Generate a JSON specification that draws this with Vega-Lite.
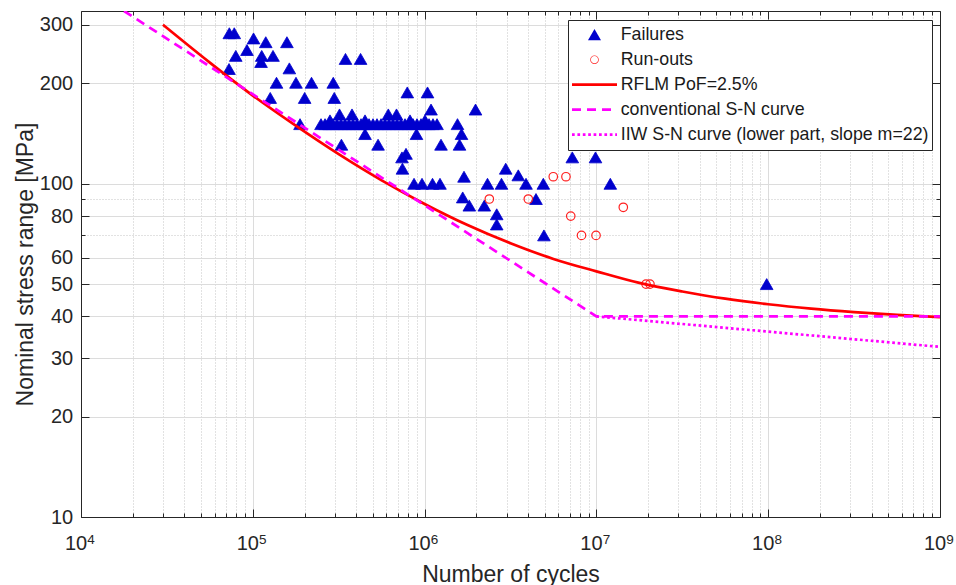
{
  "$schema": "https://vega.github.io/schema/vega-lite/v6.json",
  "width": 859,
  "height": 506,
  "autosize": "none",
  "padding": {"left": 81, "top": 11, "right": 16, "bottom": 68},
  "background": "white",
  "config": {
    "font": "Liberation Sans",
    "view": {"stroke": null},
    "axis": {
      "labelFont": "Liberation Sans",
      "titleFont": "Liberation Sans",
      "domainColor": "#262626",
      "domainWidth": 1,
      "tickColor": "#262626",
      "tickWidth": 1,
      "labelColor": "#262626",
      "titleColor": "#262626",
      "gridColor": "#dcdcdc",
      "gridWidth": 1,
      "titleFontWeight": "normal",
      "labelFontSize": 20,
      "titleFontSize": 23,
      "labelOverlap": false,
      "labelFlush": false
    }
  },
  "datasets": {
    "failures": [
      {"N": 73000, "S": 283}, {"N": 78000, "S": 283}, {"N": 101000, "S": 273}, {"N": 119000, "S": 266},
      {"N": 158000, "S": 266}, {"N": 79600, "S": 242}, {"N": 92500, "S": 252}, {"N": 112700, "S": 242},
      {"N": 111700, "S": 232}, {"N": 131100, "S": 242}, {"N": 72700, "S": 221}, {"N": 163200, "S": 222},
      {"N": 137400, "S": 201}, {"N": 178400, "S": 201}, {"N": 219700, "S": 201}, {"N": 294000, "S": 201},
      {"N": 126300, "S": 181}, {"N": 200400, "S": 181}, {"N": 298000, "S": 181}, {"N": 346400, "S": 237},
      {"N": 424000, "S": 237}, {"N": 188300, "S": 151}, {"N": 793000, "S": 188}, {"N": 1040000, "S": 188},
      {"N": 1090000, "S": 167}, {"N": 1979000, "S": 167}, {"N": 1554000, "S": 151}, {"N": 1640000, "S": 141},
      {"N": 1597000, "S": 131}, {"N": 1246000, "S": 131}, {"N": 897000, "S": 141}, {"N": 450000, "S": 141},
      {"N": 536000, "S": 131}, {"N": 328000, "S": 131}, {"N": 738600, "S": 120}, {"N": 779500, "S": 123},
      {"N": 743000, "S": 111}, {"N": 868000, "S": 100}, {"N": 966000, "S": 100}, {"N": 1112000, "S": 100},
      {"N": 1229000, "S": 100}, {"N": 1696000, "S": 105}, {"N": 2323000, "S": 100}, {"N": 2803000, "S": 100},
      {"N": 2966000, "S": 111}, {"N": 3510000, "S": 106}, {"N": 3893000, "S": 100}, {"N": 4910000, "S": 100},
      {"N": 7240000, "S": 120}, {"N": 9880000, "S": 120}, {"N": 12050000, "S": 100}, {"N": 1667000, "S": 91},
      {"N": 1821000, "S": 86}, {"N": 2226000, "S": 86}, {"N": 2629000, "S": 81}, {"N": 2629000, "S": 75.5},
      {"N": 4450000, "S": 90}, {"N": 4950000, "S": 70}, {"N": 98000000, "S": 50},
      {"N": 249500, "S": 151}, {"N": 263300, "S": 151}, {"N": 277700, "S": 151}, {"N": 293000, "S": 151},
      {"N": 309100, "S": 151}, {"N": 326200, "S": 151}, {"N": 344100, "S": 151}, {"N": 363100, "S": 151},
      {"N": 383000, "S": 151}, {"N": 404200, "S": 151}, {"N": 426500, "S": 151}, {"N": 450000, "S": 151},
      {"N": 474800, "S": 151}, {"N": 500900, "S": 151}, {"N": 528400, "S": 151}, {"N": 557600, "S": 151},
      {"N": 588300, "S": 151}, {"N": 620700, "S": 151}, {"N": 654900, "S": 151}, {"N": 691000, "S": 151},
      {"N": 728900, "S": 151}, {"N": 769100, "S": 151}, {"N": 811500, "S": 151}, {"N": 856200, "S": 151},
      {"N": 903300, "S": 151}, {"N": 953000, "S": 151}, {"N": 1005000, "S": 151}, {"N": 1061000, "S": 151},
      {"N": 1119000, "S": 151}, {"N": 1181000, "S": 151},
      {"N": 319700, "S": 161.5}, {"N": 378000, "S": 161.5}, {"N": 614800, "S": 161.5}, {"N": 686300, "S": 161.5},
      {"N": 281400, "S": 155}, {"N": 450000, "S": 155}, {"N": 822400, "S": 155}, {"N": 1005000, "S": 155}
    ],
    "runouts": [
      {"N": 2381000, "S": 90}, {"N": 4015000, "S": 90}, {"N": 5610000, "S": 105}, {"N": 6650000, "S": 105},
      {"N": 7090000, "S": 80}, {"N": 8190000, "S": 70}, {"N": 9950000, "S": 70}, {"N": 14340000, "S": 85},
      {"N": 19440000, "S": 50}, {"N": 20500000, "S": 50}
    ],
    "rflm": [
      {"N": 30000, "S": 300}, {"N": 56230, "S": 231}, {"N": 100000, "S": 184}, {"N": 177800, "S": 149.4},
      {"N": 316200, "S": 122.7}, {"N": 562300, "S": 102.4}, {"N": 1000000, "S": 87}, {"N": 1778000, "S": 75.2},
      {"N": 3162000, "S": 66.3}, {"N": 5623000, "S": 59.5}, {"N": 10000000, "S": 54.6}, {"N": 17780000, "S": 50.4},
      {"N": 31620000, "S": 47.5}, {"N": 56230000, "S": 45.2}, {"N": 100000000, "S": 43.5}, {"N": 177800000, "S": 42.2},
      {"N": 316200000, "S": 41.2}, {"N": 562300000, "S": 40.4}, {"N": 1000000000, "S": 39.8}
    ],
    "conventional": [
      {"N": 17808, "S": 330}, {"N": 10000000, "S": 40}, {"N": 1000000000, "S": 40}
    ],
    "iiw": [
      {"N": 10000000, "S": 40}, {"N": 1000000000, "S": 32.4}
    ]
  },
  "resolve": {"axis": {"x": "independent", "y": "independent"}},
  "layer": [
    {
      "data": {"name": "failures"},
      "mark": {"type": "point", "shape": "triangle-up", "filled": true, "size": 160, "opacity": 1, "stroke": "#0000cd", "strokeWidth": 0.8, "clip": true},
      "encoding": {
        "x": {
          "field": "N", "type": "quantitative",
          "scale": {"type": "log", "domain": [10000, 1000000000], "nice": false},
          "axis": {
            "orient": "bottom",
            "values": [10000, 100000, 1000000, 10000000, 100000000, 1000000000],
            "grid": true, "tickSize": -8, "labelExpr": "'10'", "labelOffset": -5.5,
            "labelPadding": 24.5, "labelBaseline": "top",
            "title": "Number of cycles", "titleY": 64, "titleBaseline": "alphabetic"
          }
        },
        "y": {
          "field": "S", "type": "quantitative",
          "scale": {"type": "log", "domain": [10, 330], "nice": false},
          "axis": {
            "orient": "left",
            "values": [10, 20, 30, 40, 50, 60, 80, 100, 200, 300],
            "grid": true, "tickSize": -8, "labelPadding": 16.3,
            "title": "Nominal stress range [MPa]", "titleX": -49, "titleBaseline": "alphabetic"
          }
        },
        "color": {
          "datum": "Failures", "type": "nominal",
          "scale": {
            "domain": ["Failures", "Run-outs", "RFLM PoF=2.5%", "conventional S-N curve", "IIW S-N curve (lower part, slope m=22)"],
            "range": ["#0000cd", "#ff2020", "#ff0000", "#ff00ff", "#ff00ff"]
          },
          "legend": {
            "orient": "none", "legendX": 487, "legendY": 9,
            "title": null,
            "padding": 2.5, "clipHeight": 24.3, "rowPadding": 0,
            "strokeColor": "#262626", "fillColor": "white",
            "symbolSize": 2025, "symbolStrokeWidth": 2.6, "symbolOffset": 0,
            "labelFont": "Liberation Sans", "labelFontSize": 17.8, "labelColor": "#1a1a1a",
            "labelOffset": 2.2, "labelLimit": 0,
            "encoding": {
              "symbols": {
                "shape": {"value": {"expr": "datum.value === 'Failures' ? 'M0,-0.25L0.289,0.25L-0.289,0.25Z' : datum.value === 'Run-outs' ? 'M-0.19,0A0.19,0.19,0,1,1,0.19,0A0.19,0.19,0,1,1,-0.19,0ZM-0.16,0A0.16,0.16,0,1,0,0.16,0A0.16,0.16,0,1,0,-0.16,0Z' : 'M-1,0L1,0'"}},
                "fill": {"value": {"expr": "datum.value === 'Failures' ? '#0000cd' : datum.value === 'Run-outs' ? '#ff2020' : 'transparent'"}},
                "stroke": {"value": {"expr": "datum.value === 'Failures' || datum.value === 'Run-outs' ? 'transparent' : datum.value === 'RFLM PoF=2.5%' ? '#ff0000' : '#ff00ff'"}},
                "strokeOpacity": {"value": {"expr": "datum.value === 'Failures' || datum.value === 'Run-outs' ? 0 : 1"}},
                "strokeDash": {"value": {"expr": "datum.value === 'conventional S-N curve' ? [9, 6] : datum.value === 'IIW S-N curve (lower part, slope m=22)' ? [2.7, 2.7] : [1, 0]"}},
                "opacity": {"value": 1}
              }
            }
          }
        }
      }
    },
    {
      "data": {"name": "runouts"},
      "mark": {"type": "point", "shape": "circle", "filled": false, "size": 72, "strokeWidth": 1.2, "opacity": 1, "clip": true},
      "encoding": {
        "x": {
          "field": "N", "type": "quantitative",
          "scale": {"type": "log", "domain": [10000, 1000000000], "nice": false},
          "axis": {
            "orient": "bottom",
            "values": [20000, 30000, 40000, 50000, 60000, 70000, 80000, 90000,
                       200000, 300000, 400000, 500000, 600000, 700000, 800000, 900000,
                       2000000, 3000000, 4000000, 5000000, 6000000, 7000000, 8000000, 9000000,
                       20000000, 30000000, 40000000, 50000000, 60000000, 70000000, 80000000, 90000000,
                       200000000, 300000000, 400000000, 500000000, 600000000, 700000000, 800000000, 900000000],
            "grid": true, "gridDash": [1, 2], "gridColor": "#c4c4c4",
            "tickSize": -4, "labels": false, "domain": false, "title": null
          }
        },
        "y": {
          "field": "S", "type": "quantitative",
          "scale": {"type": "log", "domain": [10, 330], "nice": false},
          "axis": {
            "orient": "left",
            "values": [70, 90],
            "grid": true, "gridDash": [1, 2], "gridColor": "#c4c4c4",
            "tickSize": -4, "labels": false, "domain": false, "title": null
          }
        },
        "color": {"datum": "Run-outs", "type": "nominal", "legend": null}
      }
    },
    {
      "data": {"name": "rflm"},
      "mark": {"type": "line", "strokeWidth": 2.7, "interpolate": "monotone", "clip": true},
      "encoding": {
        "x": {
          "field": "N", "type": "quantitative",
          "scale": {"type": "log", "domain": [10000, 1000000000], "nice": false},
          "axis": {
            "orient": "bottom",
            "values": [10000, 100000, 1000000, 10000000, 100000000, 1000000000],
            "grid": false, "ticks": false, "domain": false,
            "labelExpr": "format(round(log(datum.value) / LN10), 'd')",
            "labelFontSize": 13.5, "labelOffset": 9.5, "labelPadding": 15, "labelBaseline": "top",
            "title": null
          }
        },
        "y": {
          "field": "S", "type": "quantitative",
          "scale": {"type": "log", "domain": [10, 330], "nice": false},
          "axis": {
            "orient": "right",
            "values": [10, 20, 30, 40, 50, 60, 80, 100, 200, 300],
            "grid": false, "tickSize": -8, "labels": false, "domain": true, "title": null
          }
        },
        "color": {"datum": "RFLM PoF=2.5%", "type": "nominal", "legend": null}
      }
    },
    {
      "data": {"name": "conventional"},
      "mark": {"type": "line", "strokeWidth": 2.7, "strokeDash": [9, 6], "clip": true},
      "encoding": {
        "x": {
          "field": "N", "type": "quantitative",
          "scale": {"type": "log", "domain": [10000, 1000000000], "nice": false},
          "axis": {
            "orient": "top",
            "values": [10000, 100000, 1000000, 10000000, 100000000, 1000000000],
            "grid": false, "tickSize": -8, "labels": false, "domain": true, "title": null
          }
        },
        "y": {
          "field": "S", "type": "quantitative",
          "scale": {"type": "log", "domain": [10, 330], "nice": false},
          "axis": {
            "orient": "right",
            "values": [70, 90],
            "grid": false, "tickSize": -4, "labels": false, "domain": false, "title": null
          }
        },
        "color": {"datum": "conventional S-N curve", "type": "nominal", "legend": null}
      }
    },
    {
      "data": {"name": "iiw"},
      "mark": {"type": "line", "strokeWidth": 2.7, "strokeDash": [2.7, 2.7], "clip": true},
      "encoding": {
        "x": {
          "field": "N", "type": "quantitative",
          "scale": {"type": "log", "domain": [10000, 1000000000], "nice": false},
          "axis": {
            "orient": "top",
            "values": [20000, 30000, 40000, 50000, 60000, 70000, 80000, 90000,
                       200000, 300000, 400000, 500000, 600000, 700000, 800000, 900000,
                       2000000, 3000000, 4000000, 5000000, 6000000, 7000000, 8000000, 9000000,
                       20000000, 30000000, 40000000, 50000000, 60000000, 70000000, 80000000, 90000000,
                       200000000, 300000000, 400000000, 500000000, 600000000, 700000000, 800000000, 900000000],
            "grid": false, "tickSize": -4, "labels": false, "domain": false, "title": null
          }
        },
        "y": {
          "field": "S", "type": "quantitative",
          "scale": {"type": "log", "domain": [10, 330], "nice": false},
          "axis": null
        },
        "color": {"datum": "IIW S-N curve (lower part, slope m=22)", "type": "nominal", "legend": null}
      }
    }
  ]
}
